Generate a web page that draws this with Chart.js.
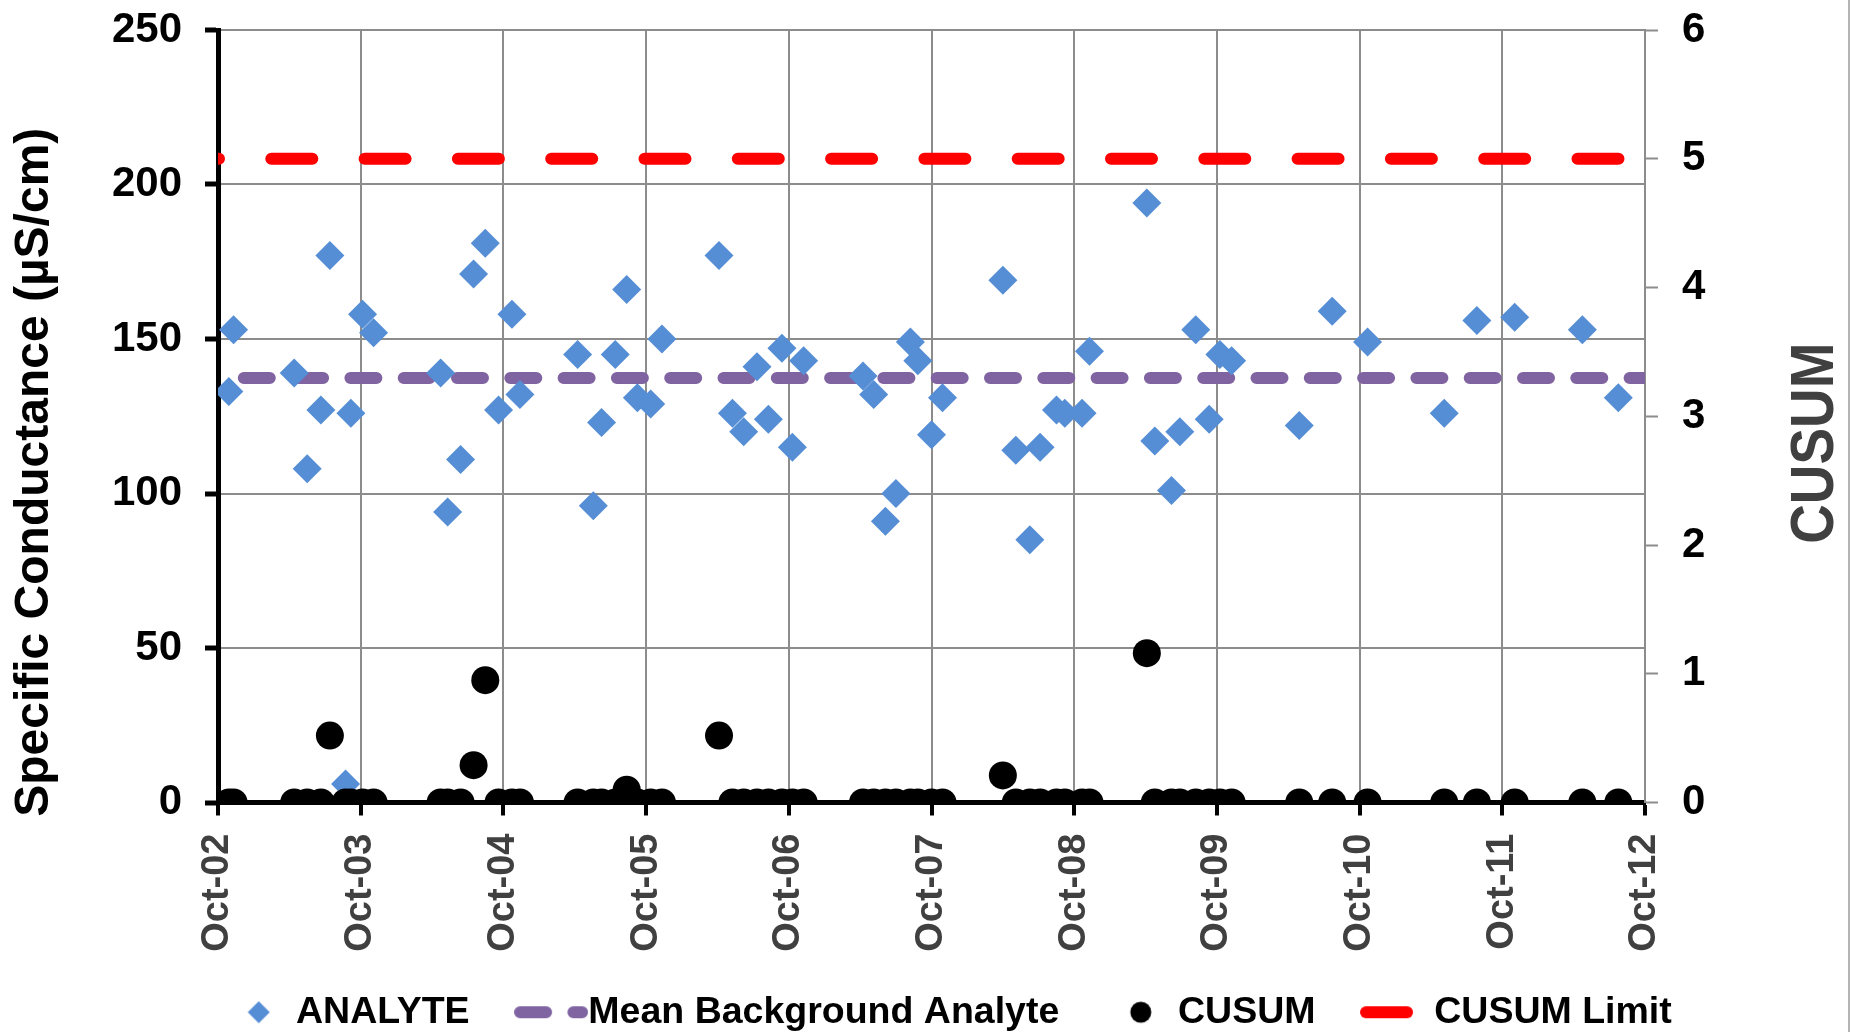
<!DOCTYPE html>
<html>
<head>
<meta charset="utf-8">
<script src="https://cdn.jsdelivr.net/npm/chart.js@4.4.1/dist/chart.umd.min.js"></script>
<style>
  body { margin: 0; background: #fff; }
  #wrap { width: 1848px; height: 1032px; border-right: 2px solid #b4b4b4; }
</style>
</head>
<body>
<div id="wrap"><canvas id="myChart" width="1848" height="1032"></canvas></div>
<script>
// sample dates, in years after Oct-02
var sampleYears = [0.076, 0.109, 0.534, 0.625, 0.721, 0.784, 0.894, 0.931, 1.013, 1.090,
  1.560, 1.609, 1.700, 1.791, 1.873, 1.966, 2.060, 2.116, 2.520, 2.630,
  2.688, 2.784, 2.864, 2.939, 3.032, 3.111, 3.511, 3.605, 3.684, 3.777,
  3.857, 3.952, 4.025, 4.104, 4.520, 4.595, 4.677, 4.751, 4.852, 4.904,
  5.000, 5.077, 5.500, 5.591, 5.689, 5.761, 5.876, 5.934, 6.055, 6.107,
  6.509, 6.565, 6.682, 6.740, 6.852, 6.946, 7.021, 7.103, 7.577, 7.808,
  8.056, 8.593, 8.822, 9.087, 9.561, 9.813];
var analyte = [133, 153, 139, 108, 127, 177, 6, 126, 158, 152,
  139, 94, 111, 171, 181, 127, 158, 132, 145, 96,
  123, 145, 166, 131, 129, 150, 177, 126, 120, 141,
  124, 147, 115, 143, 138, 132, 91, 100, 149, 143,
  119, 131, 169, 114, 85, 115, 127, 126, 126, 146,
  194, 117, 101, 120, 153, 124, 145, 143, 122, 159,
  149, 126, 156, 157, 153, 131];
var cusum = [0, 0, 0, 0, 0, 0.52, 0, 0, 0, 0,
  0, 0, 0, 0.29, 0.95, 0, 0, 0, 0, 0,
  0, 0, 0.10, 0, 0, 0, 0.52, 0, 0, 0,
  0, 0, 0, 0, 0, 0, 0, 0, 0, 0,
  0, 0, 0.21, 0, 0, 0, 0, 0, 0, 0,
  1.16, 0, 0, 0, 0, 0, 0, 0, 0, 0,
  0, 0, 0, 0, 0, 0];
var meanBackground = 137.4;
var cusumLimit = 5;
var tickLabels = ["Oct-02", "Oct-03", "Oct-04", "Oct-05", "Oct-06", "Oct-07",
  "Oct-08", "Oct-09", "Oct-10", "Oct-11", "Oct-12"];

var FONT = "'Liberation Sans', Arial, sans-serif";
var BLUE = "#558ED5", PURPLE = "#8064A2", RED = "#FF0000";
var GRID = "#8c8c8c";

function pts(ys) {
  return sampleYears.map(function (x, i) { return { x: x, y: ys[i] }; });
}
var xEnd = tickLabels.length - 1;

// little pictures for the legend keys
function legendKey(kind) {
  var c = document.createElement("canvas");
  var g = c.getContext("2d");
  if (kind == "diamond" || kind == "circle") {
    c.width = 24; c.height = 24;
    g.fillStyle = kind == "diamond" ? BLUE : "#000";
    g.beginPath();
    if (kind == "diamond") {
      g.moveTo(12, 1); g.lineTo(23, 12); g.lineTo(12, 23); g.lineTo(1, 12);
    } else {
      g.arc(12, 12, 10.5, 0, Math.PI * 2);
    }
    g.fill();
  } else {
    c.width = 74; c.height = 14;
    g.strokeStyle = kind == "mean" ? PURPLE : RED;
    g.lineWidth = 12;
    g.lineCap = "round";
    g.setLineDash(kind == "mean" ? [26, 27.3] : [41, 52.3]);
    g.beginPath(); g.moveTo(6, 7); g.lineTo(68, 7); g.stroke();
  }
  return c;
}
var keys = [legendKey("diamond"), legendKey("mean"), legendKey("circle"), legendKey("limit")];

// nudge legend into place, and let the x labels hang below their box
var layoutTweak = {
  id: "layoutTweak",
  afterLayout: function (chart) {
    var lg = chart.legend;
    lg.left += 32; lg.right += 32;
    lg.top += 9; lg.bottom += 9;
    chart.scales.x.bottom += 60;
  }
};

function sideTitle(ctx, text, x, y, font, color, squeeze) {
  ctx.save();
  ctx.translate(x, y);
  ctx.rotate(-Math.PI / 2);
  ctx.scale(squeeze, 1);
  ctx.font = font;
  ctx.fillStyle = color;
  ctx.textAlign = "center";
  ctx.textBaseline = "middle";
  ctx.fillText(text, 0, 0);
  ctx.restore();
}

var axisTitles = {
  id: "axisTitles",
  afterDraw: function (chart) {
    var a = chart.chartArea, mid = (a.top + a.bottom) / 2;
    sideTitle(chart.ctx, "Specific Conductance (µS/cm)", chart.scales.y.left + 35,
      mid + 56, "bold 48px " + FONT, "#000", 1);
    sideTitle(chart.ctx, "CUSUM", chart.scales.y2.right - 32,
      mid + 27, "bold 62px " + FONT, "#404040", 0.885);
  }
};

// vertical axes: no extra room above/below for the end labels
function fixWidth(w) {
  return function (s) { s.width = w; s.paddingTop = 0; s.paddingBottom = 0; };
}

Chart.defaults.color = "#000";
Chart.defaults.font.family = FONT;

new Chart("myChart", {
  type: "scatter",
  data: {
    datasets: [{
      label: "ANALYTE",
      data: pts(analyte),
      yAxisID: "y",
      pointStyle: "rectRot",
      pointRadius: 14.5,
      backgroundColor: BLUE,
      borderWidth: 0,
      order: 1
    }, {
      label: "Mean Background Analyte",
      data: [{ x: 0, y: meanBackground }, { x: xEnd, y: meanBackground }],
      yAxisID: "y",
      showLine: true,
      pointRadius: 0,
      borderColor: PURPLE,
      borderWidth: 12,
      borderCapStyle: "round",
      borderDash: [26, 27.3],
      borderDashOffset: 27.5,
      clip: 0,
      order: 2
    }, {
      label: "CUSUM",
      data: pts(cusum),
      yAxisID: "y2",
      pointStyle: "circle",
      pointRadius: 14,
      backgroundColor: "#000",
      borderWidth: 0,
      order: 0
    }, {
      label: "CUSUM Limit",
      data: [{ x: 0, y: cusumLimit }, { x: xEnd, y: cusumLimit }],
      yAxisID: "y2",
      showLine: true,
      pointRadius: 0,
      borderColor: RED,
      borderWidth: 12,
      borderCapStyle: "round",
      borderDash: [41, 52.3],
      borderDashOffset: 40,
      clip: 0,
      order: 2
    }]
  },
  options: {
    responsive: false,
    animation: false,
    layout: { padding: { top: 30, left: 0, right: 0, bottom: 0 } },
    plugins: {
      tooltip: { enabled: false },
      legend: {
        position: "bottom",
        labels: {
          usePointStyle: true,
          boxWidth: 37,
          boxHeight: 37,
          padding: 63,
          font: { size: 37.5, weight: "bold" },
          sort: function (a, b) { return a.datasetIndex - b.datasetIndex; },
          generateLabels: function (chart) {
            var items = Chart.defaults.plugins.legend.labels.generateLabels(chart);
            items.forEach(function (it) { it.pointStyle = keys[it.datasetIndex]; });
            return items;
          }
        }
      }
    },
    scales: {
      x: {
        type: "linear",
        min: 0,
        max: xEnd,
        afterFit: function (s) { s.height = 119; },
        ticks: {
          stepSize: 1,
          autoSkip: false,
          maxRotation: 90,
          minRotation: 90,
          padding: 18,
          color: "#404040",
          font: { size: 38, weight: "bold" },
          callback: function (v) { return tickLabels[v]; }
        },
        grid: { color: GRID, lineWidth: 2, tickColor: "#000", tickWidth: 4, tickLength: 13 },
        border: { color: "#000", width: 5 }
      },
      y: {
        position: "left",
        min: 0,
        max: 250,
        afterFit: fixWidth(218),
        ticks: { stepSize: 50, padding: 23, font: { size: 42, weight: "bold" } },
        grid: { color: GRID, lineWidth: 2, tickColor: "#000", tickWidth: 5, tickLength: 13 },
        border: { color: "#000", width: 5 }
      },
      y2: {
        position: "right",
        min: 0,
        max: 6,
        afterFit: fixWidth(203),
        ticks: { stepSize: 1, padding: 24, font: { size: 42, weight: "bold" } },
        grid: { drawOnChartArea: false, tickColor: GRID, tickWidth: 2, tickLength: 13 },
        border: { color: GRID, width: 2 }
      }
    }
  },
  plugins: [layoutTweak, axisTitles]
});
</script>
</body>
</html>
